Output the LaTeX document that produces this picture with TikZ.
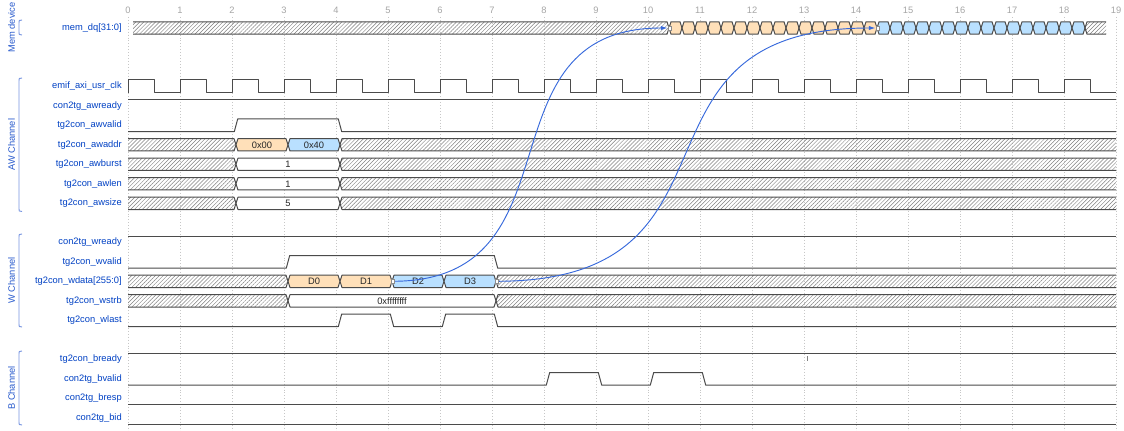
\documentclass[tikz,border=0pt]{standalone}
\usepackage{fontspec}
\setmainfont{Liberation Sans}
\usetikzlibrary{patterns.meta,arrows.meta}
\definecolor{lbl}{RGB}{0,65,196}
\definecolor{grp}{RGB}{40,90,205}
\definecolor{brk}{RGB}{120,150,225}
\definecolor{wl}{RGB}{75,75,75}
\definecolor{org}{HTML}{FFE0B9}
\definecolor{blu}{HTML}{B9E0FF}
\definecolor{arw}{RGB}{55,105,220}
\def\bh{6.2}
\def\sh{6.3}
\newcommand\cell[5]{%
  \draw[wave,fill=#4] (#1,#3) -- ({#1+2},{#3-\bh}) -- ({#2-2},{#3-\bh}) -- (#2,#3) -- ({#2-2},{#3+\bh}) -- ({#1+2},{#3+\bh}) -- cycle;
  \node[celltxt] at ({(#1+#2)/2},#3) {#5};}
\newcommand\hatchRP[3]{%
  \fill[hatch] (#1,{#3-\bh}) -- ({#2-2},{#3-\bh}) -- (#2,#3) -- ({#2-2},{#3+\bh}) -- (#1,{#3+\bh}) -- cycle;
  \draw[wave] (#1,{#3-\bh}) -- ({#2-2},{#3-\bh}) -- (#2,#3) -- ({#2-2},{#3+\bh}) -- (#1,{#3+\bh});}
\newcommand\hatchLP[3]{%
  \fill[hatch] (#1,#3) -- ({#1+2},{#3-\bh}) -- (#2,{#3-\bh}) -- (#2,{#3+\bh}) -- ({#1+2},{#3+\bh}) -- cycle;
  \draw[wave] (#2,{#3-\bh}) -- ({#1+2},{#3-\bh}) -- (#1,#3) -- ({#1+2},{#3+\bh}) -- (#2,{#3+\bh});}
\newcommand\pulses[2]{%
  \draw[wave] (128,{#1+\sh}) \foreach \a/\b in {#2} { -- ({128+52*\a+2.3},{#1+\sh}) -- ({128+52*\a+5.7},{#1-\sh}) -- ({128+52*\b+2.3},{#1-\sh}) -- ({128+52*\b+5.7},{#1+\sh}) } -- (1116,{#1+\sh});}
\newcommand\grpbracket[4]{%
  \draw[brk,line width=0.7pt] (22,#1) .. controls (19,#1) .. (19,{#1+4}) -- (19,{#2-4}) .. controls (19,#2) .. (22,#2);
  \node[grptxt] (#4) at (11.5,{(#1+#2)/2}) {#3};}
\begin{document}
\begin{tikzpicture}[x=0.75pt,y=-0.75pt,
  wave/.style={draw=wl,line width=0.75pt,line join=round},
  hatch/.style={pattern={Lines[angle=45,distance=2.1pt,line width=0.35pt]},pattern color=black!50},
  lab/.style={anchor=east,text=lbl,font=\fontsize{7}{8}\selectfont,inner sep=0pt},
  celltxt/.style={font=\fontsize{7}{8}\selectfont,inner sep=0pt,text=black!85},
  ticktxt/.style={font=\fontsize{7}{8}\selectfont,inner sep=0pt,text=black!35},
  grptxt/.style={rotate=90,font=\fontsize{7}{8}\selectfont,inner sep=0pt,text=grp},
  gridl/.style={draw=black!22,line width=0.5pt,dash pattern=on 0.6pt off 1.6pt},
  mk/.style={draw=black!45,fill=white,line width=0.3pt,minimum width=2.2pt,minimum height=2.6pt,inner sep=0pt},
  conn/.style={draw=arw,line width=0.7pt,-{Latex[length=5pt,width=3.2pt]}}]
\useasboundingbox (0,0) rectangle (1124,431);
\fill[white] (0,0) rectangle (1124,431);
% grid and ticks
\foreach \k in {0,...,19} {
  \draw[gridl] ({128+52*\k},17) -- ({128+52*\k},431);
  \node[ticktxt] (tk\k) at ({128+52*\k},10.5) {\k};
}
% row y positions
\def\ymem{28}
\def\yclk{86.3}
\def\yawr{105.8}
\def\yawv{125.3}
\def\yawa{144.8}
\def\yawb{164.3}
\def\yawl{183.8}
\def\yaws{203.3}
\def\ywr{242.3}
\def\ywv{261.8}
\def\ywd{281.3}
\def\yws{300.8}
\def\ywl{320.3}
\def\ybr{359.3}
\def\ybv{378.8}
\def\ybp{398.3}
\def\ybi{417.8}
% labels
\node[lab] (l1) at (122,\ymem) {mem\_dq[31:0]};
\node[lab] (l2) at (122,\yclk) {emif\_axi\_usr\_clk};
\node[lab] (l3) at (122,\yawr) {con2tg\_awready};
\node[lab] (l4) at (122,\yawv) {tg2con\_awvalid};
\node[lab] (l5) at (122,\yawa) {tg2con\_awaddr};
\node[lab] (l6) at (122,\yawb) {tg2con\_awburst};
\node[lab] (l7) at (122,\yawl) {tg2con\_awlen};
\node[lab] (l8) at (122,\yaws) {tg2con\_awsize};
\node[lab] (l9) at (122,\ywr) {con2tg\_wready};
\node[lab] (l10) at (122,\ywv) {tg2con\_wvalid};
\node[lab] (l11) at (122,\ywd) {tg2con\_wdata[255:0]};
\node[lab] (l12) at (122,\yws) {tg2con\_wstrb};
\node[lab] (l13) at (122,\ywl) {tg2con\_wlast};
\node[lab] (l14) at (122,\ybr) {tg2con\_bready};
\node[lab] (l15) at (122,\ybv) {con2tg\_bvalid};
\node[lab] (l16) at (122,\ybp) {con2tg\_bresp};
\node[lab] (l17) at (122,\ybi) {con2tg\_bid};
% groups
\grpbracket{20}{35}{Mem device}{g1}
\grpbracket{78}{211.5}{AW Channel}{g2}
\grpbracket{234}{327}{W Channel}{g3}
\grpbracket{351}{425}{B Channel}{g4}
% mem_dq
\hatchRP{133}{669}{\ymem}
\foreach \k [evaluate=\k as \xa using 669+13*\k, evaluate=\k as \xb using 682+13*\k] in {0,...,15} {\cell{\xa}{\xb}{\ymem}{org}{}}
\foreach \k [evaluate=\k as \xa using 877+13*\k, evaluate=\k as \xb using 890+13*\k] in {0,...,15} {\cell{\xa}{\xb}{\ymem}{blu}{}}
\hatchLP{1085}{1106}{\ymem}
% clock
\draw[wave] (128,{\yclk+\sh}) \foreach \k in {0,...,18} { -- ({128+52*\k},{\yclk+\sh}) -- ({128+52*\k},{\yclk-\sh}) -- ({154+52*\k},{\yclk-\sh}) -- ({154+52*\k},{\yclk+\sh}) } -- (1116,{\yclk+\sh});
% constant signals
\draw[wave] (128,{\yawr-\sh}) -- (1116,{\yawr-\sh});
\draw[wave] (128,{\ywr-\sh}) -- (1116,{\ywr-\sh});
\draw[wave] (128,{\ybr-\sh}) -- (1116,{\ybr-\sh});
\draw[wave] (128,{\ybp+\sh}) -- (1116,{\ybp+\sh});
\draw[wave] (128,{\ybi+\sh}) -- (1116,{\ybi+\sh});
% pulses
\pulses{\yawv}{2/4}
\pulses{\ywv}{3/7}
\pulses{\ywl}{4/5,6/7}
\pulses{\ybv}{8/9,10/11}
% AW buses
\hatchRP{128}{236}{\yawa}
\cell{236}{288}{\yawa}{org}{0x00}
\cell{288}{340}{\yawa}{blu}{0x40}
\hatchLP{340}{1116}{\yawa}
\hatchRP{128}{236}{\yawb}
\cell{236}{340}{\yawb}{white}{1}
\hatchLP{340}{1116}{\yawb}
\hatchRP{128}{236}{\yawl}
\cell{236}{340}{\yawl}{white}{1}
\hatchLP{340}{1116}{\yawl}
\hatchRP{128}{236}{\yaws}
\cell{236}{340}{\yaws}{white}{5}
\hatchLP{340}{1116}{\yaws}
% W buses
\hatchRP{128}{288}{\ywd}
\cell{288}{340}{\ywd}{org}{D0}
\cell{340}{392}{\ywd}{org}{D1}
\cell{392}{444}{\ywd}{blu}{D2}
\cell{444}{496}{\ywd}{blu}{D3}
\hatchLP{496}{1116}{\ywd}
\hatchRP{128}{288}{\yws}
\cell{288}{496}{\yws}{white}{0xffffffff}
\hatchLP{496}{1116}{\yws}
% small mark
\draw[black!50,line width=0.6pt] (807,356) -- (807,361);
% connectors
\coordinate (s1) at (392.5,281.3);
\coordinate (e1) at (667.5,28);
\coordinate (s2) at (496.5,281.3);
\coordinate (e2) at (875.5,28);
\draw[conn] (s1) .. controls (585,281.3) and (475,28) .. (e1);
\draw[conn] (s2) .. controls (762,281.3) and (610,28) .. (e2);
\node[mk] (m1) at (392.5,281.3) {};
\node[mk] (m2) at (496.5,281.3) {};
\node[mk] (m3) at (669.5,28) {};
\node[mk] (m4) at (877.5,28) {};
\end{tikzpicture}
\end{document}
